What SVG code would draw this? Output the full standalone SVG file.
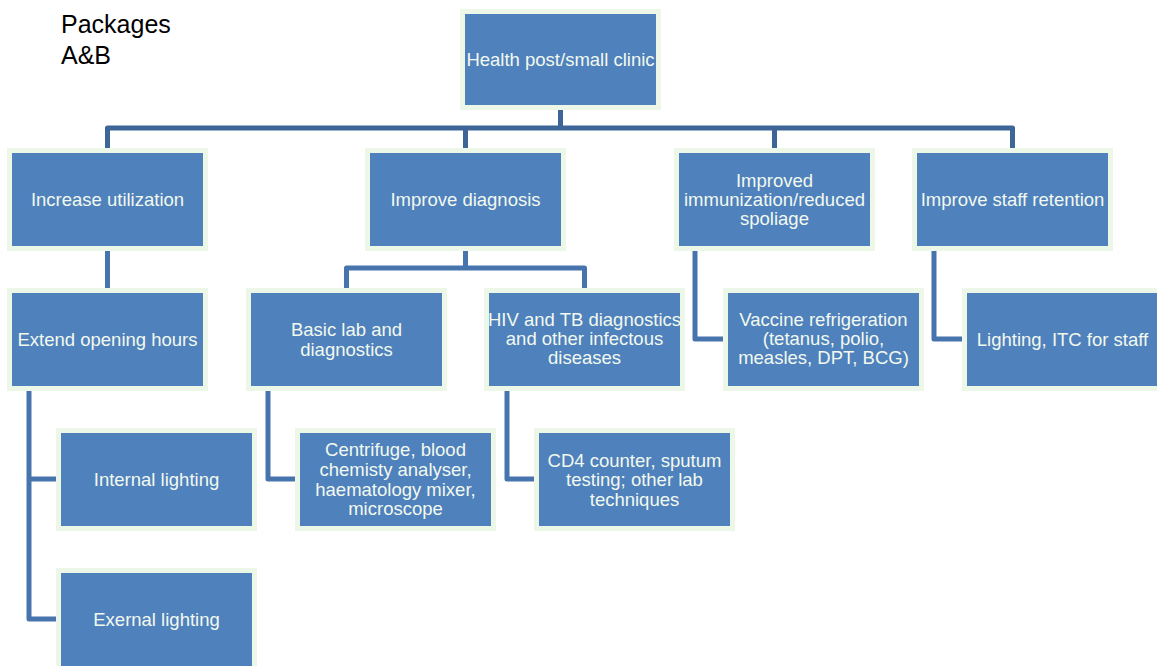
<svg xmlns="http://www.w3.org/2000/svg" width="1157" height="666" viewBox="0 0 1157 666">
<style>
.box{fill:#4F81BD;stroke:#EDF7E8;stroke-width:5}
.t{font-family:"Liberation Sans",Arial,sans-serif;font-size:18.5px;fill:#F2F9EE;text-anchor:middle}
.lbl{font-family:"Liberation Sans",Arial,sans-serif;font-size:25px;fill:#000}
.c{fill:none;stroke:#4874AE;stroke-width:5;stroke-linejoin:round}
.c0{fill:none;stroke:#3E6597;stroke-width:5;stroke-linejoin:round}
</style>
<rect width="1157" height="666" fill="#fff"/>
<g id="title">
<text class="lbl" x="61" y="33">Packages</text>
<text class="lbl" x="61" y="64">A&amp;B</text>
</g>
<g id="connectors">
<path class="c0" d="M560.5 106V128M107.5 150V128H1012.5V150M465.5 128V150M774.5 128V150"/>
<path class="c" d="M107.5 246V293"/>
<path class="c" d="M465.5 246V268M346.5 293V268H584.5V293"/>
<path class="c" d="M695 246V339H728"/>
<path class="c" d="M934 246V339H967"/>
<path class="c" d="M29 386V619H61M29 479H61"/>
<path class="c" d="M268 386V479H300"/>
<path class="c" d="M507 386V479H539"/>
</g>
<g id="root"><rect class="box" x="462.5" y="11.5" width="196" height="96"/><text class="t" x="560.5" y="65.5">Health post/small clinic</text></g>
<g id="increase"><rect class="box" x="9.5" y="150.5" width="196" height="98"/><text class="t" x="107.5" y="205.5">Increase utilization</text></g>
<g id="diagnosis"><rect class="box" x="367.5" y="150.5" width="196" height="98"/><text class="t" x="465.5" y="205.5">Improve diagnosis</text></g>
<g id="immunization"><rect class="box" x="676.5" y="150.5" width="196" height="98"/><text class="t" x="774.5" y="186.5">Improved</text><text class="t" x="774.5" y="205.5">immunization/reduced</text><text class="t" x="774.5" y="224.5">spoliage</text></g>
<g id="staff"><rect class="box" x="914.5" y="150.5" width="196" height="98"/><text class="t" x="1012.5" y="205.5">Improve staff retention</text></g>
<g id="extend"><rect class="box" x="9.5" y="290.5" width="196" height="98"/><text class="t" x="107.5" y="345.5">Extend opening hours</text></g>
<g id="basiclab"><rect class="box" x="248.5" y="290.5" width="196" height="98"/><text class="t" x="346.5" y="335.5">Basic lab and</text><text class="t" x="346.5" y="355.5">diagnostics</text></g>
<g id="hivtb"><rect class="box" x="486.5" y="290.5" width="196" height="98"/><text class="t" x="584.5" y="325.5">HIV and TB diagnostics</text><text class="t" x="584.5" y="344.5">and other infectous</text><text class="t" x="584.5" y="363.5">diseases</text></g>
<g id="vaccine"><rect class="box" x="725.5" y="290.5" width="196" height="98"/><text class="t" x="823.5" y="325.5">Vaccine refrigeration</text><text class="t" x="823.5" y="344.5">(tetanus, polio,</text><text class="t" x="823.5" y="363.5">measles, DPT, BCG)</text></g>
<g id="lighting-itc"><rect class="box" x="964.5" y="290.5" width="196" height="98"/><text class="t" x="1062.5" y="345.5">Lighting, ITC for staff</text></g>
<g id="internal"><rect class="box" x="58.5" y="430.5" width="196" height="98"/><text class="t" x="156.5" y="485.5">Internal lighting</text></g>
<g id="centrifuge"><rect class="box" x="297.5" y="430.5" width="196" height="98"/><text class="t" x="395.5" y="455.5">Centrifuge, blood</text><text class="t" x="395.5" y="475.5">chemisty analyser,</text><text class="t" x="395.5" y="495.5">haematology mixer,</text><text class="t" x="395.5" y="514.5">microscope</text></g>
<g id="cd4"><rect class="box" x="536.5" y="430.5" width="196" height="98"/><text class="t" x="634.5" y="466.5">CD4 counter, sputum</text><text class="t" x="634.5" y="485.5">testing; other lab</text><text class="t" x="634.5" y="505.5">techniques</text></g>
<g id="external"><rect class="box" x="58.5" y="570.5" width="196" height="98"/><text class="t" x="156.5" y="625.5">Exernal lighting</text></g>
</svg>
